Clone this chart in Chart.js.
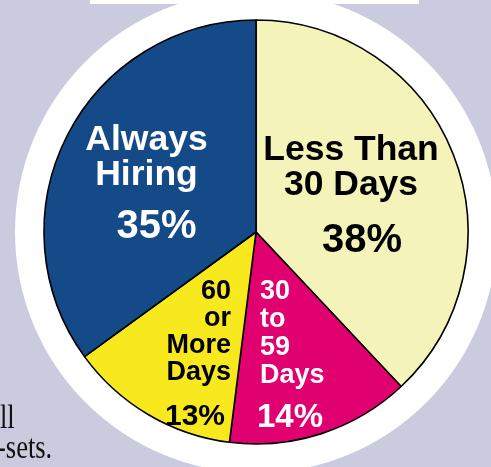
<!DOCTYPE html>
<html>
<head>
<meta charset="utf-8">
<script src="https://cdn.jsdelivr.net/npm/chart.js@4/dist/chart.umd.min.js"></script>
<style>
  html, body { margin: 0; padding: 0; background: #cbcbe0; overflow: hidden; }
  canvas { display: block; }
</style>
</head>
<body>
<canvas id="c" width="491" height="467"></canvas>
<script>
// Time to fill a vacancy, share of respondents
const categories = ['Less Than 30 Days', '30 to 59 Days', '60 or More Days', 'Always Hiring'];
const shares = [38, 14, 13, 35];
const labelLines = [
  ['Less Than', '30 Days'],
  ['30', 'to', '59', 'Days'],
  ['60', 'or', 'More', 'Days'],
  ['Always', 'Hiring']
];
const sliceColors = ['#f4f3b9', '#e1006f', '#f8e91e', '#144a87'];
const textColors = ['#000000', '#ffffff', '#000000', '#ffffff'];
const sideText = ['ll', '-sets.'];

// Label placement, relative to the pie centre
const labelLayout = [
  { align: 'center', dx: 95,    dy: -72, step: 35, size: 35.5, pdx: 106,  pdy: 20,  psize: 40 },
  { align: 'left',   dx: 4,     dy: 67,  step: 28, size: 27,   pdx: 34,   pdy: 195, psize: 33 },
  { align: 'right',  dx: -25,   dy: 67,  step: 27, size: 27,   pdx: -61,  pdy: 193, psize: 30 },
  { align: 'center', dx: -109.5,dy: -82, step: 35, size: 35.5, pdx: -99.5,pdy: 6,   psize: 40 }
];

const SANS = '"Liberation Sans", Arial, Helvetica, sans-serif';

const backdrop = {
  id: 'backdrop',
  beforeDraw(chart) {
    const ctx = chart.ctx;
    const arc = chart.getDatasetMeta(0).data[0];
    ctx.save();
    ctx.fillStyle = '#cbcbe0';
    ctx.fillRect(0, 0, chart.width, chart.height);
    ctx.fillStyle = '#ffffff';
    ctx.fillRect(90, 0, 329, 4);
    ctx.beginPath();
    ctx.arc(arc.x, arc.y, arc.outerRadius + 29, 0, Math.PI * 2);
    ctx.fill();
    // body text running alongside the figure
    ctx.fillStyle = '#111111';
    ctx.font = '34px "Liberation Serif", "Times New Roman", serif';
    ctx.textBaseline = 'alphabetic';
    ctx.textAlign = 'left';
    ctx.scale(0.78, 1);
    ctx.fillText(sideText[0], 0, 428);
    ctx.fillText(sideText[1], -3 / 0.78, 458);
    ctx.restore();
  }
};

const sliceLabels = {
  id: 'sliceLabels',
  afterDatasetsDraw(chart) {
    const ctx = chart.ctx;
    const arc = chart.getDatasetMeta(0).data[0];
    const cx = arc.x, cy = arc.y;
    ctx.save();
    ctx.textBaseline = 'alphabetic';
    labelLines.forEach((lines, i) => {
      const L = labelLayout[i];
      ctx.fillStyle = textColors[i];
      ctx.textAlign = L.align;
      ctx.font = 'bold ' + L.size + 'px ' + SANS;
      lines.forEach((t, k) => {
        ctx.fillText(t, cx + L.dx, cy + L.dy + k * L.step);
      });
      ctx.textAlign = 'center';
      ctx.font = 'bold ' + L.psize + 'px ' + SANS;
      ctx.fillText(shares[i] + '%', cx + L.pdx, cy + L.pdy);
    });
    ctx.restore();
  }
};

new Chart(document.getElementById('c'), {
  type: 'pie',
  data: {
    labels: categories,
    datasets: [{
      data: shares,
      backgroundColor: sliceColors,
      borderColor: '#000000',
      borderWidth: 1.6,
      radius: 212
    }]
  },
  options: {
    responsive: false,
    animation: false,
    layout: { padding: { left: 21, right: 0, top: 0, bottom: 3 } },
    plugins: {
      legend: { display: false },
      tooltip: { enabled: false }
    }
  },
  plugins: [backdrop, sliceLabels]
});
</script>
</body>
</html>
